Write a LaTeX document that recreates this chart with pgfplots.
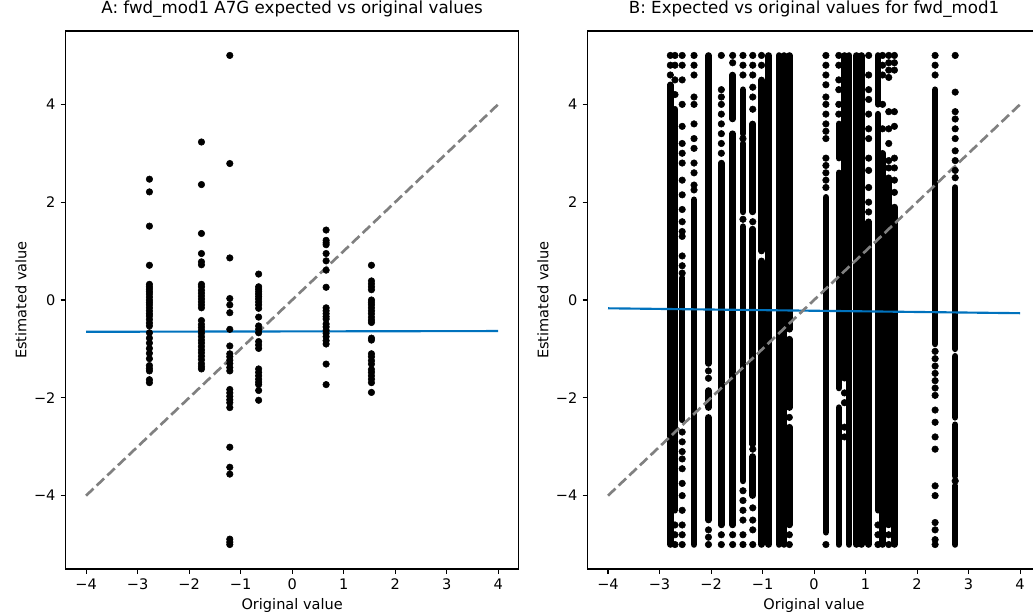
\documentclass[border=0pt]{standalone}
\usepackage{pgfplots}
\pgfplotsset{compat=1.18}
\usepackage{fontspec}
\setmainfont{DejaVu Sans}
\definecolor{fitblue}{RGB}{0,114,189}
\definecolor{idgray}{RGB}{128,128,128}
\pgfplotsset{
  panel/.style={
    scale only axis, width=340pt, height=403.5pt,
    xmin=-4.4, xmax=4.4, ymin=-5.5, ymax=5.5,
    axis line style={line width=0.8pt},
    tick align=outside, tick pos=left, major tick length=3.65pt,
    tick style={black, line width=0.8pt},
    xtick={-4,-3,-2,-1,0,1,2,3,4}, xticklabels={−4,−3,−2,−1,0,1,2,3,4},
    ytick={-4,-2,0,2,4}, yticklabels={−4,−2,0,2,4},
    ticklabel style={font=\fontsize{10.9}{13}\selectfont},
    xticklabel style={anchor=north, inner sep=0pt, yshift=-3.65pt},
    yticklabel style={anchor=east, inner sep=0pt, xshift=-3.65pt},
    title style={font=\fontsize{12.5}{15}\selectfont, at={(axis description cs:0.5,1)}, anchor=base, yshift=7.1pt},
    xlabel={Original value}, ylabel={Estimated value},
    label style={font=\fontsize{10.9}{13}\selectfont},
    xlabel style={at={(axis description cs:0.5,0)}, anchor=base, yshift=-30.5pt},
    ylabel style={at={(axis description cs:-0.0861,0.5)}, anchor=base},
    clip=true,
  },
  dots/.style={only marks, mark=*, mark size=2.45pt, black, mark options={draw=black, fill=black}},
  bands/.style={black, line width=4.9pt, line cap=round, unbounded coords=jump, mark=none},
}
\begin{document}
\begin{tikzpicture}
\useasboundingbox (0,0) rectangle (774.75pt,462pt);
\begin{axis}[panel, at={(49.1pt,35.25pt)}, anchor=south west,
  title={A: fwd\_mod1 A7G expected vs original values}]
\addplot[dots] coordinates {
(-2.77,2.47) (-2.77,2.21) (-2.77,1.51) (-2.77,0.71) (-2.77,0.32) (-2.77,0.27) (-2.77,0.22) (-2.77,0.17) (-2.77,0.12) (-2.77,0.06) (-2.77,0.0) (-2.77,-0.05) (-2.77,-0.1) (-2.77,-0.16) (-2.77,-0.22) (-2.77,-0.28) (-2.77,-0.33) (-2.77,-0.4) (-2.77,-0.47) (-2.77,-0.53) (-2.77,-0.67) (-2.77,-0.78) (-2.77,-0.88) (-2.77,-0.99) (-2.77,-1.09) (-2.77,-1.2) (-2.77,-1.34) (-2.77,-1.4) (-2.77,-1.45) (-2.77,-1.63) (-2.77,-1.69)
(-1.76,3.23) (-1.76,2.36) (-1.76,1.36) (-1.76,0.95) (-1.76,0.78) (-1.76,0.72) (-1.76,0.32) (-1.76,0.27) (-1.76,0.2) (-1.76,0.14) (-1.76,0.08) (-1.76,0.02) (-1.76,-0.04) (-1.76,-0.1) (-1.76,-0.16) (-1.76,-0.42) (-1.76,-0.5) (-1.76,-0.56) (-1.76,-0.62) (-1.76,-0.68) (-1.76,-0.75) (-1.76,-0.82) (-1.76,-0.88) (-1.76,-0.95) (-1.76,-1.02) (-1.76,-1.08) (-1.76,-1.15) (-1.76,-1.22) (-1.76,-1.3) (-1.76,-1.36) (-1.76,-1.41)
(-1.21,5.0) (-1.21,2.79) (-1.21,0.86) (-1.21,0.03) (-1.21,-0.1) (-1.21,-0.26) (-1.21,-0.6) (-1.21,-0.94) (-1.21,-1.1) (-1.21,-1.16) (-1.21,-1.23) (-1.21,-1.3) (-1.21,-1.38) (-1.21,-1.45) (-1.21,-1.83) (-1.21,-1.9) (-1.21,-1.97) (-1.21,-2.04) (-1.21,-2.1) (-1.21,-2.2) (-1.21,-3.01) (-1.21,-3.42) (-1.21,-3.56) (-1.21,-4.89) (-1.21,-4.95) (-1.21,-5.0)
(-0.65,0.53) (-0.65,0.27) (-0.65,0.22) (-0.65,0.17) (-0.65,0.12) (-0.65,0.07) (-0.65,0.02) (-0.65,-0.04) (-0.65,-0.1) (-0.65,-0.17) (-0.65,-0.35) (-0.65,-0.53) (-0.65,-0.6) (-0.65,-0.67) (-0.65,-0.85) (-0.65,-0.92) (-0.65,-0.99) (-0.65,-1.41) (-0.65,-1.48) (-0.65,-1.55) (-0.65,-1.62) (-0.65,-1.68) (-0.65,-1.73) (-0.65,-1.85) (-0.65,-2.05)
(0.66,1.43) (0.66,1.22) (0.66,1.17) (0.66,1.13) (0.66,0.95) (0.66,0.8) (0.66,0.61) (0.66,0.26) (0.66,-0.16) (0.66,-0.22) (0.66,-0.28) (0.66,-0.34) (0.66,-0.39) (0.66,-0.49) (0.66,-0.55) (0.66,-0.62) (0.66,-0.68) (0.66,-0.75) (0.66,-0.83) (0.66,-0.9) (0.66,-1.31) (0.66,-1.73)
(1.54,0.71) (1.54,0.39) (1.54,0.33) (1.54,0.27) (1.54,0.21) (1.54,0.0) (1.54,-0.05) (1.54,-0.1) (1.54,-0.16) (1.54,-0.22) (1.54,-0.28) (1.54,-0.35) (1.54,-0.41) (1.54,-0.46) (1.54,-0.78) (1.54,-0.82) (1.54,-1.1) (1.54,-1.16) (1.54,-1.24) (1.54,-1.31) (1.54,-1.42) (1.54,-1.48) (1.54,-1.55) (1.54,-1.62) (1.54,-1.69) (1.54,-1.89)
};
\addplot[fitblue, line width=1.6pt, mark=none] coordinates {(-4,-0.65) (4,-0.635)};
\addplot[idgray, line width=2pt, dash pattern=on 7.7pt off 3.3pt, mark=none] coordinates {(-4,-4) (4,4)};
\end{axis}
\begin{axis}[panel, at={(440.55pt,35.25pt)}, anchor=south west,
  title={B: Expected vs original values for fwd\_mod1}]
\addplot[bands] coordinates {
(-2.79,-5) (-2.79,4.4) (-2.79,nan)
(-2.70,-4.3) (-2.70,3.9) (-2.70,nan)
(-2.56,-2.45) (-2.56,0.45) (-2.56,nan)
(-2.33,-5) (-2.33,2.05) (-2.33,nan)
(-2.05,-1.3) (-2.05,5) (-2.05,nan)
(-2.05,-2.2) (-2.05,-1.85) (-2.05,nan)
(-2.05,-4.5) (-2.05,-2.4) (-2.05,nan)
(-1.80,-4.6) (-1.80,2.8) (-1.80,nan)
(-1.58,-4.6) (-1.58,3.4) (-1.58,nan)
(-1.58,3.7) (-1.58,4.6) (-1.58,nan)
(-1.38,-3.7) (-1.38,1.5) (-1.38,nan)
(-1.38,1.8) (-1.38,3.2) (-1.38,nan)
(-1.38,3.4) (-1.38,4.3) (-1.38,nan)
(-1.19,-2.95) (-1.19,1.45) (-1.19,nan)
(-1.19,1.8) (-1.19,3.6) (-1.19,nan)
(-1.19,-4.0) (-1.19,-3.2) (-1.19,nan)
(-1.02,-5) (-1.02,0.8) (-1.02,nan)
(-1.02,1.0) (-1.02,4.5) (-1.02,nan)
(-0.88,-5) (-0.88,5) (-0.88,nan)
(-0.68,-5) (-0.68,5) (-0.68,nan)
(-0.58,-5) (-0.58,5) (-0.58,nan)
(-0.48,-0.6) (-0.48,5) (-0.48,nan)
(-0.48,-2.2) (-0.48,-0.8) (-0.48,nan)
(-0.48,-4.6) (-0.48,-2.6) (-0.48,nan)
(0.23,-4.75) (0.23,2.1) (0.23,nan)
(0.48,-5) (0.48,-2.2) (0.48,nan)
(0.48,-1.8) (0.48,2.6) (0.48,nan)
(0.48,2.9) (0.48,3.6) (0.48,nan)
(0.59,-1.6) (0.59,5) (0.59,nan)
(0.68,-5) (0.68,5) (0.68,nan)
(0.82,-5) (0.82,5) (0.82,nan)
(0.92,-5) (0.92,5) (0.92,nan)
(1.06,-5) (1.06,1.6) (1.06,nan)
(1.24,-4.3) (1.24,3.8) (1.24,nan)
(1.24,4.0) (1.24,5) (1.24,nan)
(1.33,-5) (1.33,3.0) (1.33,nan)
(1.45,-4.6) (1.45,2.5) (1.45,nan)
(1.56,-5) (1.56,1.9) (1.56,nan)
(2.35,-0.9) (2.35,4.3) (2.35,nan)
(2.74,-1.0) (2.74,2.3) (2.74,nan)
(2.74,-2.4) (2.74,-1.15) (2.74,nan)
(2.74,-3.6) (2.74,-2.55) (2.74,nan)
(2.74,-5) (2.74,-3.8)
};
\addplot[dots] coordinates {
(-2.79,4.6) (-2.79,4.8) (-2.79,5)
(-2.70,-5) (-2.70,-4.8) (-2.70,-4.6) (-2.70,4.2) (-2.70,4.5) (-2.70,4.8) (-2.70,5)
(-2.56,5) (-2.56,4.8) (-2.56,4.5) (-2.56,4.0) (-2.56,3.55) (-2.56,3.2) (-2.56,3.0) (-2.56,2.8) (-2.56,2.45) (-2.56,2.15) (-2.56,1.85) (-2.56,1.6) (-2.56,1.4) (-2.56,1.3) (-2.56,0.9) (-2.56,0.7) (-2.56,0.55) (-2.56,-2.7) (-2.56,-2.9) (-2.56,-3.1) (-2.56,-3.25) (-2.56,-3.45) (-2.56,-3.75) (-2.56,-4.0) (-2.56,-4.3) (-2.56,-4.6) (-2.56,-4.8) (-2.56,-5)
(-2.33,5) (-2.33,4.8) (-2.33,4.6) (-2.33,4.15) (-2.33,4.0) (-2.33,3.6) (-2.33,3.3) (-2.33,3.1) (-2.33,2.8) (-2.33,2.6) (-2.33,2.35) (-2.33,2.25)
(-2.05,-1.45) (-2.05,-1.6) (-2.05,-4.7) (-2.05,-4.85) (-2.05,-5)
(-1.80,5) (-1.80,4.3) (-1.80,4.15) (-1.80,4.0) (-1.80,3.8) (-1.80,3.6) (-1.80,3.4) (-1.80,3.2) (-1.80,3.0) (-1.80,-4.8) (-1.80,-5)
(-1.58,5) (-1.58,4.85) (-1.58,-4.8) (-1.58,-5)
(-1.38,5) (-1.38,4.8) (-1.38,4.6) (-1.38,1.65) (-1.38,3.3) (-1.38,-3.9) (-1.38,-4.1) (-1.38,-4.3) (-1.38,-4.5) (-1.38,-4.8) (-1.38,-5)
(-1.19,5) (-1.19,4.8) (-1.19,4.6) (-1.19,4.35) (-1.19,4.15) (-1.19,3.9) (-1.19,1.6) (-1.19,-3.05) (-1.19,-4.25) (-1.19,-4.5) (-1.19,-4.7) (-1.19,-5)
(-1.02,5) (-1.02,4.8)
(-0.48,-2.4) (-0.48,-4.8) (-0.48,-5)
(0.23,5) (0.23,4.8) (0.23,4.6) (0.23,4.4) (0.23,4.15) (0.23,4.0) (0.23,3.8) (0.23,3.6) (0.23,3.45) (0.23,3.3) (0.23,2.9) (0.23,2.75) (0.23,2.6) (0.23,2.45) (0.23,2.3) (0.23,-5)
(0.48,5) (0.48,4.8) (0.48,4.5) (0.48,4.3) (0.48,4.0) (0.48,3.8)
(0.59,-1.9) (0.59,-2.1) (0.59,-2.6) (0.59,-2.8)
(1.06,5) (1.06,4.6) (1.06,4.3) (1.06,4.1) (1.06,3.8) (1.06,3.5) (1.06,3.3) (1.06,2.9) (1.06,2.65) (1.06,2.3) (1.06,2.0) (1.06,1.8)
(1.24,-4.6) (1.24,-4.8) (1.24,-5)
(1.33,5) (1.33,4.8) (1.33,4.6) (1.33,4.0) (1.33,3.5)
(1.45,5) (1.45,4.85) (1.45,4.7) (1.45,4.55) (1.45,3.85) (1.45,3.5) (1.45,3.2) (1.45,2.85) (1.45,2.7) (1.45,-4.8) (1.45,-5)
(1.56,5) (1.56,4.85) (1.56,4.7) (1.56,3.85) (1.56,3.55) (1.56,2.9) (1.56,2.7) (1.56,2.45) (1.56,2.2)
(2.35,5) (2.35,4.8) (2.35,4.6) (2.35,-1.05) (2.35,-1.2) (2.35,-1.35) (2.35,-1.5) (2.35,-1.65) (2.35,-1.8) (2.35,-1.95) (2.35,-2.25) (2.35,-2.5) (2.35,-2.8) (2.35,-3.05) (2.35,-3.8) (2.35,-4.0) (2.35,-4.55) (2.35,-4.7) (2.35,-4.9) (2.35,-5)
(2.74,5) (2.74,4.25) (2.74,3.85) (2.74,3.7) (2.74,3.5) (2.74,3.3) (2.74,3.05) (2.74,2.85) (2.74,2.65) (2.74,2.5) (2.74,-3.7)
};
\addplot[fitblue, line width=1.6pt, mark=none] coordinates {(-4,-0.17) (4,-0.27)};
\addplot[idgray, line width=2pt, dash pattern=on 7.7pt off 3.3pt, mark=none] coordinates {(-4,-4) (4,4)};
\end{axis}
\end{tikzpicture}
\end{document}
